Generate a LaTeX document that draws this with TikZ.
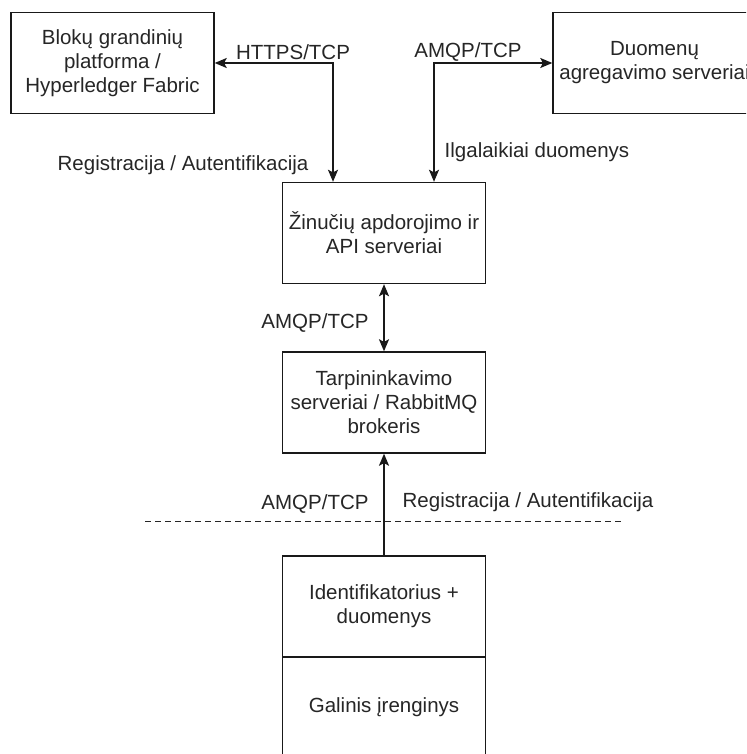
\documentclass[tikz,border=0pt]{standalone}
\usepackage{fontspec}
\setmainfont{Liberation Sans}
\usetikzlibrary{arrows.meta}
\begin{document}
\begin{tikzpicture}[x=1pt,y=-1pt,
  every node/.style={font=\fontsize{20.5}{24}\selectfont, text=black!85},
  box/.style={draw=black!90, line width=1.4pt, align=center, inner sep=0pt, minimum width=203pt, minimum height=101pt},
  conn/.style={draw=black!90, line width=1.4pt, {Stealth[length=12pt,width=10pt,inset=2.5pt]}-{Stealth[length=12pt,width=10pt,inset=2.5pt]}},
  oneway/.style={draw=black!90, line width=1.4pt, -{Stealth[length=12pt,width=10pt,inset=2.5pt]}},
  lbl/.style={inner sep=0pt, anchor=center}]
  \useasboundingbox (0,0) rectangle (746,754);
  \clip (0,0) rectangle (746,754);
  \fill[white] (0,0) rectangle (746,754);

  % components
  \node[box] (chain) at (112.5,63) {Blokų grandinių\\platforma /\\Hyperledger Fabric};
  \node[box] (agg)   at (654.5,63) {Duomenų\\agregavimo serveriai};
  \node[box] (api)   at (384,233)  {Žinučių apdorojimo ir\\API serveriai};
  \node[box] (mq)    at (384,402.5) {Tarpininkavimo\\serveriai / RabbitMQ\\brokeris};
  \node[box] (ident) at (384,606.5) {Identifikatorius +\\duomenys};
  \node[box] (dev)   at (384,707.5) {Galinis įrenginys};

  % connections
  \draw[conn] (chain.east) -| ([xshift=-51pt]api.north);
  \draw[conn] (agg.west) -| ([xshift=50pt]api.north);
  \draw[conn] (api.south) -- (mq.north);
  \draw[oneway] (ident.north) -- (mq.south);

  % network boundary
  \coordinate (bl) at (145,521);
  \coordinate (br) at (621,521);
  \draw[black!85, line width=1pt, dash pattern=on 6pt off 4pt] (bl) -- (br);

  % connector labels
  \node[lbl] (l1) at (293,52)  {HTTPS/TCP};
  \node[lbl] (l2) at (183,165) {Registracija / Autentifikacija};
  \node[lbl] (l3) at (468,52)  {AMQP/TCP};
  \node[lbl] (l4) at (537,152) {Ilgalaikiai duomenys};
  \node[lbl] (l5) at (315,323) {AMQP/TCP};
  \node[lbl] (l6) at (315,504) {AMQP/TCP};
  \node[lbl] (l7) at (528,502) {Registracija / Autentifikacija};
\end{tikzpicture}
\end{document}
